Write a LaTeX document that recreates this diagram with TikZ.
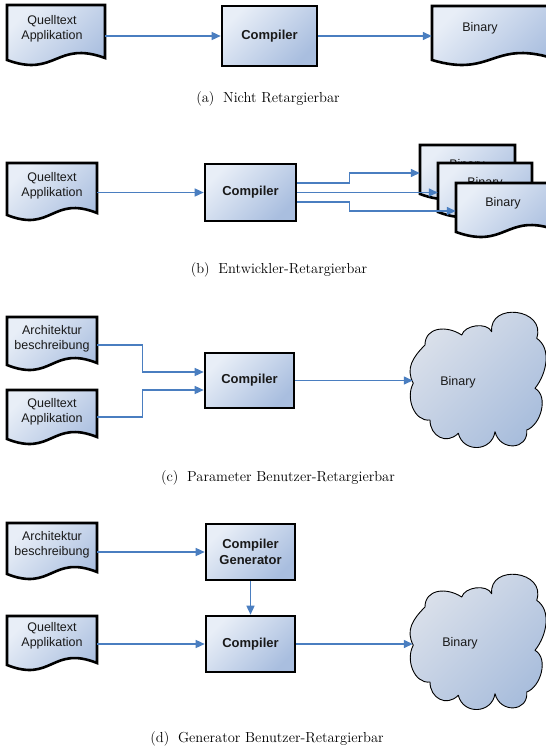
\documentclass[tikz,border=0pt]{standalone}
\usepackage{fontspec}
\newfontfamily\arialf{Liberation Sans}
\usetikzlibrary{arrows.meta,calc}
\definecolor{fillA}{HTML}{E8EEF7}
\definecolor{fillB}{HTML}{A9BEDF}
\definecolor{cloudA}{HTML}{DDE2EB}
\definecolor{cloudB}{HTML}{A8BDDC}
\definecolor{arrowblue}{HTML}{4A7EC0}
\tikzset{
 shapeline/.style={draw=black, line width=2.6pt, line join=miter, top color=fillA, bottom color=fillB, shading angle=45},
 procbox/.style={shapeline, rectangle, inner sep=0pt, font=\arialf\bfseries\fontsize{13}{16}\selectfont, align=center, text=black!90},
 doctext/.style={font=\arialf\fontsize{12.5}{15}\selectfont, align=center, text=black!90, inner sep=0pt},
 docanchor/.style={rectangle, draw=none, inner sep=0pt},
 cloudline/.style={draw=black, line width=0.9pt, line join=round, top color=cloudA, bottom color=cloudB, shading angle=45},
 conn/.style={draw=arrowblue, line width=1.4pt, -{Triangle[length=9pt,width=8pt]}},
 captionnode/.style={font=\fontsize{14.5}{17}\selectfont, inner sep=0pt}
}
\newcommand\docnode[8]{%
  \pgfmathsetmacro\dxl{#2}\pgfmathsetmacro\dxr{#2+#4}%
  \pgfmathsetmacro\dyt{#3}\pgfmathsetmacro\dyb{#3+#5}%
  \pgfmathsetmacro\dybl{#3+#5+2}\pgfmathsetmacro\dxm{#2+#4/2}%
  \pgfmathsetmacro\dyu{#3+#5-18}\pgfmathsetmacro\dyd{#3+#5+20}%
  \pgfmathsetmacro\dyc{#3+#5/2}%
  \path[shapeline] (\dxl,\dyt) -- (\dxr,\dyt) -- (\dxr,\dyb) .. controls (\dxm,\dyu) and (\dxm,\dyd) .. (\dxl,\dybl) -- cycle;
  \node[docanchor, minimum width=#4 pt, minimum height=#5 pt] (#1) at (\dxm,\dyc) {};
  \node[doctext] (#1-t) at (#6,#7) {#8};
}
\newcommand\cloudshape[2]{%
  \begin{scope}[shift={(#1,#2)}]
  \path[cloudline] (-56.7,2.3)
    .. controls +(-8,-15) and +(-12,12) .. (-45,-36)
    .. controls +(0,-18) and +(-15,-10) .. (-8.3,-46)
    .. controls +(3,-10) and +(-5,-10) .. (21.7,-49.3)
    .. controls +(-3,-30) and +(10,-30) .. (66.7,-42.7)
    .. controls +(15,10) and +(12,-15) .. (65,7.3)
    .. controls +(14,8) and +(14,-5) .. (56.7,49)
    .. controls +(2,20) and +(5,20) .. (25,50.7)
    .. controls +(-3,20) and +(5,20) .. (-11.7,52.3)
    .. controls +(-12,12) and +(0,16) .. (-40,39)
    .. controls +(-16,2) and +(-8,14) .. (-56.7,2.3) -- cycle;
  \end{scope}}
\begin{document}
\begin{tikzpicture}[x=1pt,y=-1pt]
\useasboundingbox (0,0) rectangle (546,750);
\fill[white] (0,0) rectangle (546,750);

% ---------- (a)
\docnode{qa}{7}{5}{98}{53}{52}{29}{Quelltext\\Applikation}
\node[procbox, minimum width=95pt, minimum height=60pt] (ca) at (269.5,36) {Compiler};
\docnode{ba}{432}{6}{120}{52}{480}{28}{Binary}
\draw[conn] (qa.east |- ca.west) -- (ca.west);
\draw[conn] (ca.east) -- (ba.west |- ca.east);
\node[captionnode] (capa) at (268,99) {(a)\hspace{0.6em}Nicht Retargierbar};

% ---------- (b)
\docnode{qb}{7}{163}{90}{50}{52}{185.5}{Quelltext\\Applikation}
\node[procbox, minimum width=91pt, minimum height=57pt] (cb) at (250.5,192.5) {Compiler};
\docnode{b1}{420}{145}{95}{47}{467}{165}{Binary}
\docnode{b2}{438}{163}{94}{47}{485}{183}{Binary}
\docnode{b3}{456}{183}{100}{47}{503}{203}{Binary}
\draw[conn] (qb.east |- cb.west) -- (cb.west);
\draw[conn] ([yshift=9.5pt]cb.east) -- ++(52,0) |- ([yshift=-4.5pt]b1.west);
\draw[conn] (cb.east) -- (b2.west |- cb.east);
\draw[conn] ([yshift=-9.5pt]cb.east) -- ++(52,0) |- ([yshift=-4.5pt]b3.west);
\node[captionnode] (capb) at (279,270) {(b)\hspace{0.6em}Entwickler-Retargierbar};

% ---------- (c)
\docnode{arc}{7}{317}{90}{46}{52}{339}{Architektur\\beschreibung}
\docnode{qc}{7}{390}{90}{47}{52}{411.5}{Quelltext\\Applikation}
\node[procbox, minimum width=89pt, minimum height=55pt] (cc) at (249.5,380.5) {Compiler};
\cloudshape{470}{381}
\node[doctext, minimum width=90pt] (clc) at (458,382) {Binary};
\draw[conn] ([yshift=-5pt]arc.east) -- ++(45,0) |- ([yshift=8.5pt]cc.west);
\draw[conn] ([yshift=-3.5pt]qc.east) -- ++(45,0) |- ([yshift=-9.5pt]cc.west);
\draw[conn] (cc.east) -- (clc.west |- cc.east);
\node[captionnode] (capc) at (278,478) {(c)\hspace{0.6em}Parameter Benutzer-Retargierbar};

% ---------- (d)
\docnode{ard}{7}{523}{90}{49}{52}{545}{Architektur\\beschreibung}
\node[procbox, minimum width=89pt, minimum height=56pt] (gen) at (250.5,552) {Compiler\\Generator};
\docnode{qd}{7}{616}{90}{47}{52}{636}{Quelltext\\Applikation}
\node[procbox, minimum width=89pt, minimum height=56pt] (cd) at (250.5,644) {Compiler};
\cloudshape{470}{643}
\node[doctext, minimum width=94pt] (cld) at (460,643) {Binary};
\draw[conn] (ard.east |- gen.west) -- (gen.west);
\draw[conn] (gen.south) -- (cd.north);
\draw[conn] (qd.east |- cd.west) -- (cd.west);
\draw[conn] (cd.east) -- (cld.west |- cd.east);
\node[captionnode] (capd) at (267,739) {(d)\hspace{0.6em}Generator Benutzer-Retargierbar};
\end{tikzpicture}
\end{document}
